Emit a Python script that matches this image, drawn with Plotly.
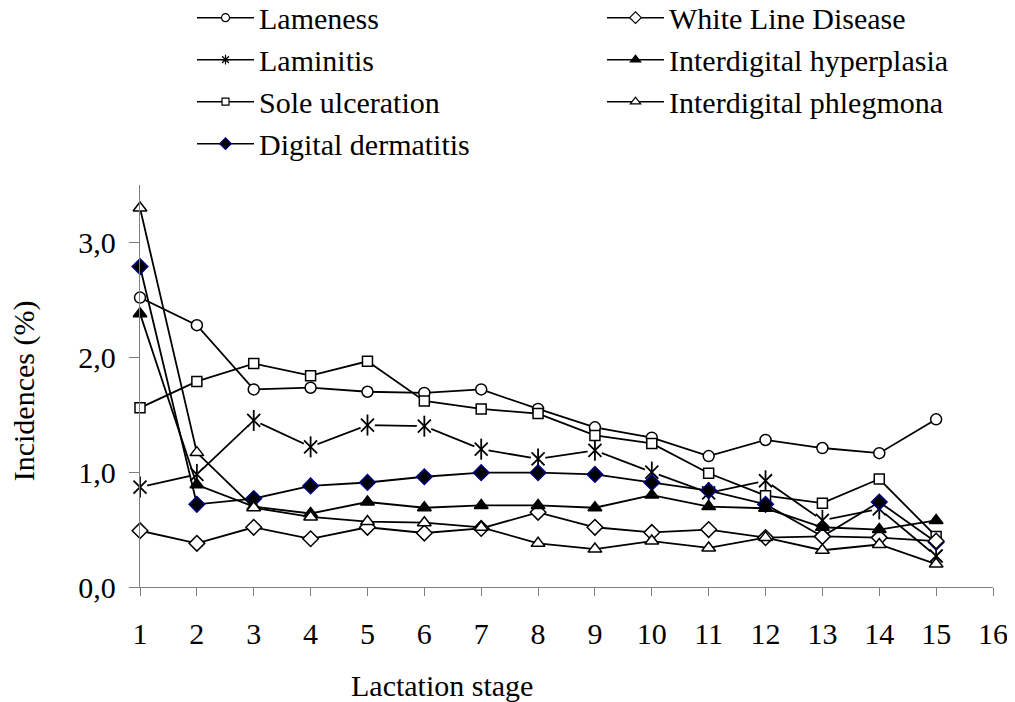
import plotly.graph_objects as go

stages = list(range(1, 16))
x_ticks = list(range(1, 17))
y_tickvals = [0, 1, 2, 3]
y_ticktext = ["0,0", "1,0", "2,0", "3,0"]

lameness = [2.52, 2.28, 1.72, 1.735, 1.70, 1.69, 1.72, 1.55, 1.39, 1.30, 1.14, 1.28, 1.21, 1.165, 1.46]
laminitis = [0.87, 0.98, 1.45, 1.22, 1.41, 1.40, 1.20, 1.115, 1.19, 1.00, 0.82, 0.925, 0.58, 0.68, 0.27]
sole_ulceration = [1.56, 1.79, 1.945, 1.84, 1.965, 1.62, 1.55, 1.51, 1.32, 1.25, 0.99, 0.795, 0.73, 0.94, 0.44]
digital_dermatitis = [2.79, 0.72, 0.77, 0.88, 0.91, 0.96, 0.995, 0.995, 0.98, 0.91, 0.84, 0.72, 0.44, 0.74, 0.39]
white_line = [0.49, 0.38, 0.52, 0.42, 0.52, 0.47, 0.51, 0.65, 0.52, 0.475, 0.50, 0.43, 0.44, 0.43, 0.40]
hyperplasia = [2.38, 0.89, 0.70, 0.64, 0.74, 0.69, 0.71, 0.71, 0.69, 0.80, 0.70, 0.685, 0.52, 0.50, 0.58]
phlegmona = [3.30, 1.17, 0.69, 0.61, 0.57, 0.56, 0.52, 0.38, 0.33, 0.40, 0.34, 0.43, 0.32, 0.37, 0.20]

FONT = "Liberation Serif, Times New Roman, serif"
LW = 1.8
fig = go.Figure()


def legend_entry(name, symbol, size, fill, outline, rank):
    # legend-only entry (no data) so the legend symbols can be small like the original
    fig.add_trace(go.Scatter(
        x=[None], y=[None], name=name, mode="lines+markers",
        line=dict(color="black", width=1.5),
        marker=dict(symbol=symbol, size=size, color=fill, line=dict(color=outline, width=1.2)),
        legendrank=rank, showlegend=True))


def series(name, y, symbol, size, fill, outline="black"):
    fig.add_trace(go.Scatter(
        x=stages, y=y, name=name, mode="lines+markers", showlegend=False,
        line=dict(color="black", width=LW),
        marker=dict(symbol=symbol, size=size, color=fill,
                    line=dict(color=outline, width=1.5)),
        cliponaxis=False))


series("Lameness", lameness, "circle", 11, "white")

# Laminitis: line, white mask behind markers, 6-arm asterisk
fig.add_trace(go.Scatter(x=stages, y=laminitis, mode="lines", showlegend=False,
                         line=dict(color="black", width=LW), cliponaxis=False, hoverinfo="skip"))
fig.add_trace(go.Scatter(x=stages, y=laminitis, mode="markers", showlegend=False,
                         marker=dict(symbol="circle", size=15, color="white", line=dict(width=0)),
                         cliponaxis=False, hoverinfo="skip"))
fig.add_trace(go.Scatter(x=stages, y=laminitis, mode="markers", showlegend=False, name="Laminitis",
                         marker=dict(symbol="x-thin-open", size=13, color="black",
                                     line=dict(color="black", width=1.8)),
                         cliponaxis=False))
fig.add_trace(go.Scatter(x=stages, y=laminitis, mode="markers", showlegend=False,
                         marker=dict(symbol="line-ns-open", size=15, color="black",
                                     line=dict(color="black", width=1.8)),
                         cliponaxis=False, hoverinfo="skip"))

series("Sole ulceration", sole_ulceration, "square", 10, "white")
series("Digital dermatitis", digital_dermatitis, "diamond", 12, "black", outline="#000080")
series("White Line Disease", white_line, "diamond", 12, "white")
series("Interdigital hyperplasia", hyperplasia, "triangle-up", 12, "black")
series("Interdigital phlegmona", phlegmona, "triangle-up", 12, "white")

legend_entry("Lameness", "circle", 8, "white", "black", 1)
legend_entry("White Line Disease", "diamond", 9, "white", "black", 2)
legend_entry("Laminitis", "asterisk-open", 8, "black", "black", 3)
legend_entry("Interdigital hyperplasia", "triangle-up", 9, "black", "black", 4)
legend_entry("Sole ulceration", "square", 7, "white", "black", 5)
legend_entry("Interdigital phlegmona", "triangle-up", 9, "white", "black", 6)
legend_entry("Digital dermatitis", "diamond", 9, "black", "#000080", 7)

axis_common = dict(showline=True, linecolor="#7f7f7f", linewidth=1.3, ticks="outside",
                   tickcolor="#7f7f7f", tickwidth=1.3, showgrid=False, zeroline=False,
                   automargin=False,
                   tickfont=dict(family=FONT, size=30, color="black"))

fig.update_xaxes(range=[1, 16], tickvals=x_ticks, ticklen=8, ticklabelstandoff=12, **axis_common)
fig.update_yaxes(range=[0, 3.5], tickvals=y_tickvals, ticktext=y_ticktext, ticklen=10,
                 ticklabelstandoff=7, **axis_common)

PLOT_H = 402
fig.add_annotation(text="Lactation stage", xref="paper", yref="paper",
                   x=(442 - 140) / 853, y=-(685 - 586.7) / PLOT_H, showarrow=False,
                   xanchor="center", yanchor="middle",
                   font=dict(family=FONT, size=30, color="black"))
fig.add_annotation(text="Incidences (%)", xref="paper", yref="paper", textangle=-90,
                   x=(24 - 140) / 853, y=(586.7 - 391) / PLOT_H, showarrow=False,
                   xanchor="center", yanchor="middle",
                   font=dict(family=FONT, size=30, color="black"))

# page body adds an 8px offset, so the figure is sized to the remaining viewport
fig.update_layout(
    width=1007, height=694,
    margin=dict(l=132, r=22, t=177, b=115, autoexpand=False),
    plot_bgcolor="white", paper_bgcolor="white",
    font=dict(family=FONT, size=30, color="black"),
    legend=dict(orientation="h", x=(192 - 140) / 853, xanchor="left",
                y=1.481, yanchor="top",
                entrywidth=338, itemwidth=57, traceorder="normal",
                font=dict(family=FONT, size=30, color="black"),
                bgcolor="rgba(0,0,0,0)", tracegroupgap=0),
    showlegend=True,
)

fig.write_html("out.html")
